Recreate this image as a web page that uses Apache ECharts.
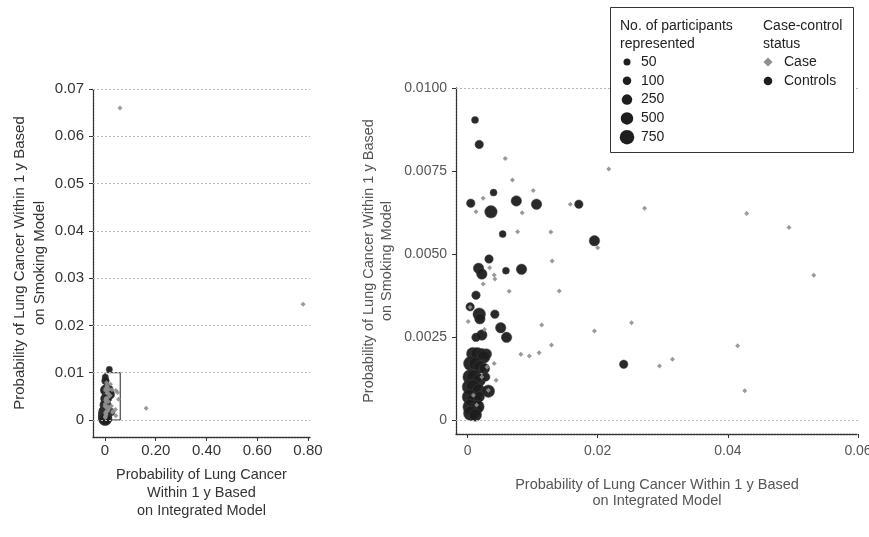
<!DOCTYPE html>
<html>
<head>
<meta charset="utf-8">
<script src="https://cdn.jsdelivr.net/npm/echarts@6/dist/echarts.min.js"></script>
<style>html,body{margin:0;padding:0;background:#fff}#c{width:869px;height:537px}</style>
</head>
<body>
<div id="c"></div>
<script>
// ---- data ----
// Controls: [integrated-model prob, smoking-model prob, participants represented]
const controlData = [
  [0.00115,0.00904,50],[0.0018,0.0083,100],[0.0040,0.00685,50],[0.0005,0.00653,100],
  [0.0036,0.00627,500],[0.0075,0.0066,250],[0.0106,0.0065,250],[0.0171,0.0065,100],
  [0.0054,0.0056,50],[0.0195,0.0054,250],[0.0033,0.00485,100],[0.0017,0.00457,250],
  [0.0022,0.0044,250],[0.0059,0.0045,50],[0.0083,0.00454,250],[0.0240,0.00168,100],
  [0.0013,0.00376,100],[0.0004,0.00341,100],[0.0018,0.00319,500],[0.0019,0.00305,250],
  [0.0042,0.00319,100],[0.0051,0.00278,250],[0.0060,0.00249,250],[0.0013,0.00249,100],
  [0.0022,0.00256,250],[0.0029,0.00199,250],
  [0.0008,0.0020,500],[0.0015,0.0020,500],[0.0022,0.0020,250],[0.0025,0.0019,500],
  [0.0005,0.0017,750],[0.0012,0.0017,500],[0.0019,0.0016,500],[0.0026,0.00155,250],
  [0.0004,0.0013,750],[0.0010,0.0013,750],[0.0018,0.0012,500],[0.0028,0.0013,100],
  [0.0003,0.0010,750],[0.0009,0.0010,750],[0.0017,0.0009,500],[0.0032,0.00087,500],
  [0.0003,0.0007,750],[0.0010,0.0006,750],[0.0018,0.0007,250],
  [0.0004,0.0004,750],[0.0010,0.0003,750],[0.0016,0.0004,500],
  [0.0005,0.0002,750],[0.0012,0.00015,500],
  [0.0170,0.0107,50]
];
// Cases: [integrated-model prob, smoking-model prob]
const caseData = [
  [0.0058,0.00788],[0.0217,0.00756],[0.0069,0.00723],[0.0101,0.00691],[0.0024,0.00668],
  [0.0158,0.0065],[0.0013,0.00627],[0.0084,0.00624],[0.0077,0.00567],[0.0128,0.00566],
  [0.0200,0.00519],[0.0130,0.00479],[0.0034,0.00459],[0.0272,0.00638],[0.0429,0.00622],
  [0.0494,0.0058],[0.0532,0.00436],[0.0252,0.00293],[0.0415,0.00224],[0.0295,0.00163],
  [0.0315,0.00183],[0.0426,0.00088],[0.0064,0.00388],[0.0141,0.00389],[0.0114,0.00286],
  [0.0195,0.00268],[0.0082,0.00198],[0.0095,0.00193],[0.0110,0.00203],[0.0129,0.00226],
  [0.0041,0.00437],[0.0042,0.00425],[0.0024,0.0041],[0.0004,0.0034],[0.0001,0.00297],
  [0.0026,0.00273],[0.0041,0.0017],[0.0044,0.0012],[0.0022,0.0013],[0.0009,0.00075],
  [0.0032,0.0009],[0.0014,0.00045],[0.0030,0.0016],
  [0.059,0.066],[0.781,0.0245],[0.162,0.00247]
];
const legendSizes = [50,100,250,500,750];
const statusLabels = ['Case','Controls'];
const leftXTicks = [0,0.2,0.4,0.6,0.8];
const leftYTicks = [0,0.01,0.02,0.03,0.04,0.05,0.06,0.07];
const rightXTicks = [0,0.02,0.04,0.06];
const rightYTicks = [0,0.0025,0.005,0.0075,0.01];
const zoomBox = [[0,0],[0.06,0.01]];

// ---- styling ----
const FONT = "'Liberation Sans', Arial, sans-serif";
const sizeOf = {50:7,100:8.5,250:10.5,500:12.5,750:14.5};
const CTRL = '#1e1e1e', CASE = '#8f8f8f';
const axisLineStyle = {color:'#333', width:1.3, type:[2,1]};
const gridLineStyle = {color:'#b8b8b8', width:1, type:[2,2]};

function fmt(d){ return v => (Math.abs(v) < 1e-12 ? '0' : v.toFixed(d)); }

function xAxis(grid, min, max, ticks, d, name, gap, color, margin, fs, lh){
  return {
    type:'value', gridIndex:grid, min:min, max:max,
    axisLine:{show:true, onZero:false, lineStyle:axisLineStyle},
    axisTick:{show:true, customValues:ticks, length:4, lineStyle:{color:'#333'}},
    axisLabel:{customValues:ticks, formatter:fmt(d), color:color, fontFamily:FONT, fontSize:fs, margin:margin, showMinLabel:true, showMaxLabel:true},
    splitLine:{show:false},
    name:name, nameLocation:'middle', nameGap:gap,
    nameTextStyle:{color:color, fontFamily:FONT, fontSize:14.5, lineHeight:lh}
  };
}
function yAxis(grid, min, max, ticks, d, name, gap, color, fs, nfs, lh){
  return {
    type:'value', gridIndex:grid, min:min, max:max,
    axisLine:{show:true, onZero:false, lineStyle:axisLineStyle},
    axisTick:{show:true, customValues:ticks, length:4, lineStyle:{color:'#333'}},
    axisLabel:{customValues:ticks, formatter:fmt(d), color:color, fontFamily:FONT, fontSize:fs, margin:9},
    splitLine:{show:false},
    name:name, nameLocation:'middle', nameGap:gap, nameRotate:90,
    nameTextStyle:{color:color, fontFamily:FONT, fontSize:nfs, lineHeight:lh}
  };
}

function gridLines(xi, ticks){
  return {
    type:'scatter', xAxisIndex:xi, yAxisIndex:xi, data:[], z:1, silent:true,
    markLine:{silent:true, symbol:['none','none'], label:{show:false},
      lineStyle:gridLineStyle, emphasis:{disabled:true},
      data: ticks.map(v => ({yAxis:v}))}
  };
}
function controls(xi, scale){
  return {
    type:'scatter', xAxisIndex:xi, yAxisIndex:xi, z:3, clip:true,
    data: controlData,
    symbol:'circle',
    symbolSize: v => sizeOf[v[2]] * scale,
    itemStyle:{color:CTRL, opacity:0.95, borderColor:'#444', borderWidth:0.5}
  };
}
function cases(xi){
  return {
    type:'scatter', xAxisIndex:xi, yAxisIndex:xi, z:4, clip:true,
    data: caseData,
    symbol:'diamond', symbolSize:5,
    itemStyle:{color:CASE, opacity:0.9}
  };
}

const boxSeries = {
  type:'scatter', xAxisIndex:0, yAxisIndex:0, data:[], z:5, silent:true,
  markArea:{silent:true, itemStyle:{color:'rgba(0,0,0,0)', borderColor:'#222', borderWidth:1},
    label:{show:false},
    data:[[{coord:zoomBox[0]},{coord:zoomBox[1]}]]}
};

// legend (graphic, real text)
const LFONT = "14px 'Liberation Sans', Arial, sans-serif";
const legendEls = [
  {type:'rect', shape:{x:610.5,y:7.5,width:243,height:145}, style:{fill:'#fff', stroke:'#333', lineWidth:1}, z:100},
  {type:'text', x:620, y:17, style:{text:'No. of participants\nrepresented', font:LFONT, fill:'#222', lineHeight:18}, z:101},
  {type:'text', x:763, y:17, style:{text:'Case-control\nstatus', font:LFONT, fill:'#222', lineHeight:18}, z:101}
];
legendSizes.forEach((n,i) => {
  const cy = 62 + i*18.8;
  legendEls.push({type:'circle', shape:{cx:627, cy:cy, r:sizeOf[n]/2}, style:{fill:CTRL}, z:101});
  legendEls.push({type:'text', x:641, y:cy, style:{text:String(n), font:LFONT, fill:'#222', verticalAlign:'middle'}, z:101});
});
legendEls.push({type:'polygon', shape:{points:[[768,57.5],[772.5,62],[768,66.5],[763.5,62]]}, style:{fill:CASE}, z:101});
legendEls.push({type:'text', x:784, y:62, style:{text:statusLabels[0], font:LFONT, fill:'#222', verticalAlign:'middle'}, z:101});
legendEls.push({type:'circle', shape:{cx:768, cy:81, r:4.3}, style:{fill:CTRL}, z:101});
legendEls.push({type:'text', x:784, y:81, style:{text:statusLabels[1], font:LFONT, fill:'#222', verticalAlign:'middle'}, z:101});

const option = {
  animation:false,
  backgroundColor:'#fff',
  grid:[
    {left:93, top:89, width:217, height:348, outerBoundsMode:'none', containLabel:false},
    {left:456, top:88, width:402, height:346, outerBoundsMode:'none', containLabel:false}
  ],
  xAxis:[
    xAxis(0, -0.0473, 0.808, leftXTicks, 2, 'Probability of Lung Cancer\nWithin 1 y Based\non Integrated Model', 29, '#333', 6.5, 15, 18),
    xAxis(1, -0.00177, 0.06, rightXTicks, 2, 'Probability of Lung Cancer Within 1 y Based\non Integrated Model', 43, '#555', 10, 14, 16)
  ],
  yAxis:[
    yAxis(0, -0.0036, 0.07, leftYTicks, 2, 'Probability of Lung Cancer Within 1 y Based\non Smoking Model', 43, '#333', 15, 15, 20),
    yAxis(1, -0.00042, 0.01, rightYTicks, 4, 'Probability of Lung Cancer Within 1 y Based\non Smoking Model', 60, '#555', 14, 14.5, 18)
  ],
  series:[
    gridLines(0, leftYTicks), controls(0, 0.9), cases(0), boxSeries,
    gridLines(1, rightYTicks), controls(1, 1), cases(1)
  ],
  graphic: legendEls
};
const chart = echarts.init(document.getElementById('c'), null, {renderer:'canvas'});
chart.setOption(option);
</script>
</body>
</html>
